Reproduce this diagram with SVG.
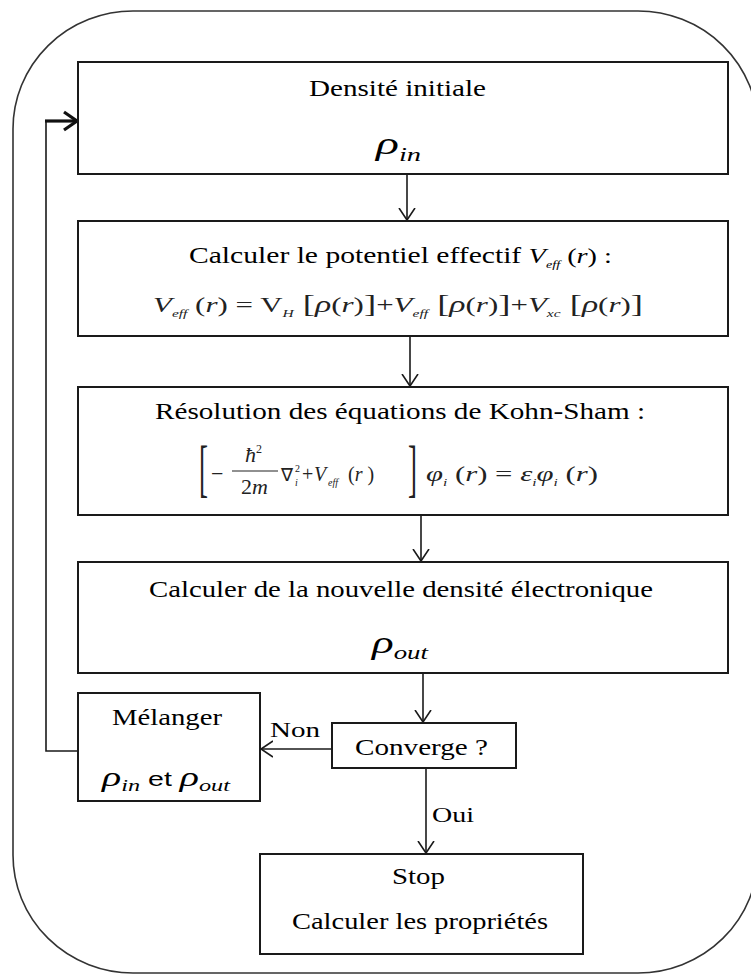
<svg xmlns="http://www.w3.org/2000/svg" width="751" height="974" viewBox="0 0 751 974">
<style>
.box{fill:#fff;stroke:#1a1a1a;stroke-width:2}
.outer{fill:none;stroke:#333;stroke-width:1.6}
.ln{fill:none;stroke:#1a1a1a;stroke-width:1.6}
.t{font-family:"Liberation Serif","Times New Roman",serif;font-size:23px;fill:#000}
.m{font-family:"Liberation Serif","Times New Roman",serif;fill:#222}
.i{font-style:italic}
.lbl{font-family:"Liberation Serif","Times New Roman",serif;font-size:21px;fill:#000}
</style>
<defs>
<marker id="arr" markerUnits="userSpaceOnUse" markerWidth="20" markerHeight="20" refX="12" refY="9" orient="auto" viewBox="0 0 20 18">
<path d="M0,1 L12,9 L0,17" fill="none" stroke="#1a1a1a" stroke-width="1.6"/>
</marker>
<marker id="arrb" markerUnits="userSpaceOnUse" markerWidth="24" markerHeight="24" refX="15" refY="11" orient="auto" viewBox="0 0 24 22">
<path d="M2,2 L15,11 L2,20" fill="none" stroke="#111" stroke-width="3.2"/>
</marker>
</defs>
<rect width="751" height="974" fill="#fff"/>
<rect class="outer" x="13" y="11" width="745" height="962" rx="120" ry="118"/>

<g id="connectors">
<line class="ln" x1="407" y1="174" x2="407" y2="220" marker-end="url(#arr)"/>
<line class="ln" x1="410" y1="336" x2="410" y2="386" marker-end="url(#arr)"/>
<line class="ln" x1="421" y1="515" x2="421" y2="561" marker-end="url(#arr)"/>
<line class="ln" x1="423" y1="673" x2="423" y2="722" marker-end="url(#arr)"/>
<line class="ln" x1="332" y1="749" x2="261" y2="749" marker-end="url(#arr)"/>
<line class="ln" x1="426" y1="768" x2="426" y2="853" marker-end="url(#arr)"/>
<polyline class="ln" points="78,751 46,751 46,121"/>
<line x1="45" y1="121" x2="77" y2="121" stroke="#111" stroke-width="3.2" marker-end="url(#arrb)"/>
<text class="lbl" x="270" y="737" textLength="50" lengthAdjust="spacingAndGlyphs">Non</text>
<text class="lbl" x="432" y="822" textLength="42" lengthAdjust="spacingAndGlyphs">Oui</text>
</g>

<g id="densite-initiale">
<rect class="box" x="78" y="62" width="650" height="112"/>
<text class="t" x="309" y="96" textLength="177" lengthAdjust="spacingAndGlyphs">Densité initiale</text>
<text class="t i" x="376" y="154" textLength="45" lengthAdjust="spacingAndGlyphs"><tspan style="font-size:32px">ρ</tspan><tspan style="font-size:19px" dy="7">in</tspan></text>
</g>

<g id="potentiel-effectif">
<rect class="box" x="78" y="221" width="650" height="115"/>
<text class="t" x="189" y="263" textLength="423" lengthAdjust="spacingAndGlyphs">Calculer le potentiel effectif <tspan class="i" style="font-size:22px">V</tspan><tspan class="i" style="font-size:11px" dy="5">eff</tspan><tspan style="font-size:22px" dy="-5"> (</tspan><tspan class="i" style="font-size:22px">r</tspan><tspan style="font-size:22px">) :</tspan></text>
<text class="m" x="153" y="312" style="font-size:22px" textLength="490" lengthAdjust="spacingAndGlyphs"><tspan class="i">V</tspan><tspan class="i" style="font-size:11px" dy="5">eff</tspan><tspan dy="-5"> (</tspan><tspan class="i">r</tspan><tspan>) = V</tspan><tspan class="i" style="font-size:11px" dy="5">H</tspan><tspan dy="-5" style="font-size:26px"> [</tspan><tspan class="i" style="font-size:24px">ρ</tspan><tspan>(</tspan><tspan class="i">r</tspan><tspan>)</tspan><tspan style="font-size:26px">]</tspan><tspan>+</tspan><tspan class="i">V</tspan><tspan class="i" style="font-size:11px" dy="5">eff</tspan><tspan dy="-5" style="font-size:26px"> [</tspan><tspan class="i" style="font-size:24px">ρ</tspan><tspan>(</tspan><tspan class="i">r</tspan><tspan>)</tspan><tspan style="font-size:26px">]</tspan><tspan>+</tspan><tspan class="i">V</tspan><tspan class="i" style="font-size:11px" dy="5">xc</tspan><tspan dy="-5" style="font-size:26px"> [</tspan><tspan class="i" style="font-size:24px">ρ</tspan><tspan>(</tspan><tspan class="i">r</tspan><tspan>)</tspan><tspan style="font-size:26px">]</tspan></text>
</g>

<g id="kohn-sham">
<rect class="box" x="78" y="387" width="650" height="128"/>
<text class="t" x="155" y="419" textLength="490" lengthAdjust="spacingAndGlyphs">Résolution des équations de Kohn-Sham :</text>
<text class="m" transform="translate(199,489) scale(0.9,2.1)" style="font-size:30px">[</text>
<text class="m" x="211" y="481" style="font-size:22px">−</text>
<text class="m i" x="245" y="462" style="font-size:22px">ħ<tspan style="font-size:12px;font-style:normal" dy="-9">2</tspan></text>
<line x1="232" y1="471" x2="278" y2="471" stroke="#222" stroke-width="1.2"/>
<text class="m" x="241" y="494" style="font-size:22px">2<tspan class="i">m</tspan></text>
<text class="m" x="281" y="481" style="font-size:18px">∇</text>
<text class="m" x="295" y="472" style="font-size:10px">2</text>
<text class="m i" x="295" y="486" style="font-size:10px">i</text>
<text class="m" x="302" y="481" style="font-size:20px">+</text>
<text class="m i" x="314" y="481" style="font-size:20px">V</text>
<text class="m i" x="328" y="486" style="font-size:10px">eff</text>
<text class="m" x="348" y="481" style="font-size:20px">(<tspan class="i">r</tspan> )</text>
<text class="m" transform="translate(408,489) scale(0.9,2.1)" style="font-size:30px">]</text>
<text class="m" x="426" y="481" style="font-size:20px" textLength="172" lengthAdjust="spacingAndGlyphs"><tspan class="i">φ</tspan><tspan class="i" style="font-size:10px" dy="5">i</tspan><tspan dy="-5"> (</tspan><tspan class="i">r</tspan><tspan>) = </tspan><tspan class="i">ε</tspan><tspan class="i" style="font-size:10px" dy="5">i</tspan><tspan class="i" dy="-5">φ</tspan><tspan class="i" style="font-size:10px" dy="5">i</tspan><tspan dy="-5"> (</tspan><tspan class="i">r</tspan><tspan>)</tspan></text>
</g>

<g id="nouvelle-densite">
<rect class="box" x="78" y="562" width="650" height="111"/>
<text class="t" x="149" y="597" textLength="504" lengthAdjust="spacingAndGlyphs">Calculer de la nouvelle densité électronique</text>
<text class="t i" x="372" y="653" textLength="56" lengthAdjust="spacingAndGlyphs"><tspan style="font-size:32px">ρ</tspan><tspan style="font-size:19px" dy="6">out</tspan></text>
</g>

<g id="melanger">
<rect class="box" x="78" y="693" width="182" height="108"/>
<text class="t" x="112" y="725" textLength="110" lengthAdjust="spacingAndGlyphs">Mélanger</text>
<text class="t" x="102" y="786" textLength="128" lengthAdjust="spacingAndGlyphs"><tspan class="i" style="font-size:28px">ρ</tspan><tspan class="i" style="font-size:17px" dy="5">in</tspan><tspan dy="-5" style="font-family:'Liberation Sans',Arial,sans-serif;font-size:20px"> et </tspan><tspan class="i" style="font-size:28px">ρ</tspan><tspan class="i" style="font-size:17px" dy="5">out</tspan></text>
</g>

<g id="converge">
<rect class="box" x="332" y="723" width="184" height="45"/>
<text class="t" x="355" y="755" textLength="133" lengthAdjust="spacingAndGlyphs">Converge ?</text>
</g>

<g id="stop">
<rect class="box" x="260" y="854" width="323" height="100"/>
<text class="t" x="392" y="884" textLength="53" lengthAdjust="spacingAndGlyphs">Stop</text>
<text class="t" x="292" y="929" textLength="256" lengthAdjust="spacingAndGlyphs">Calculer les propriétés</text>
</g>
</svg>
